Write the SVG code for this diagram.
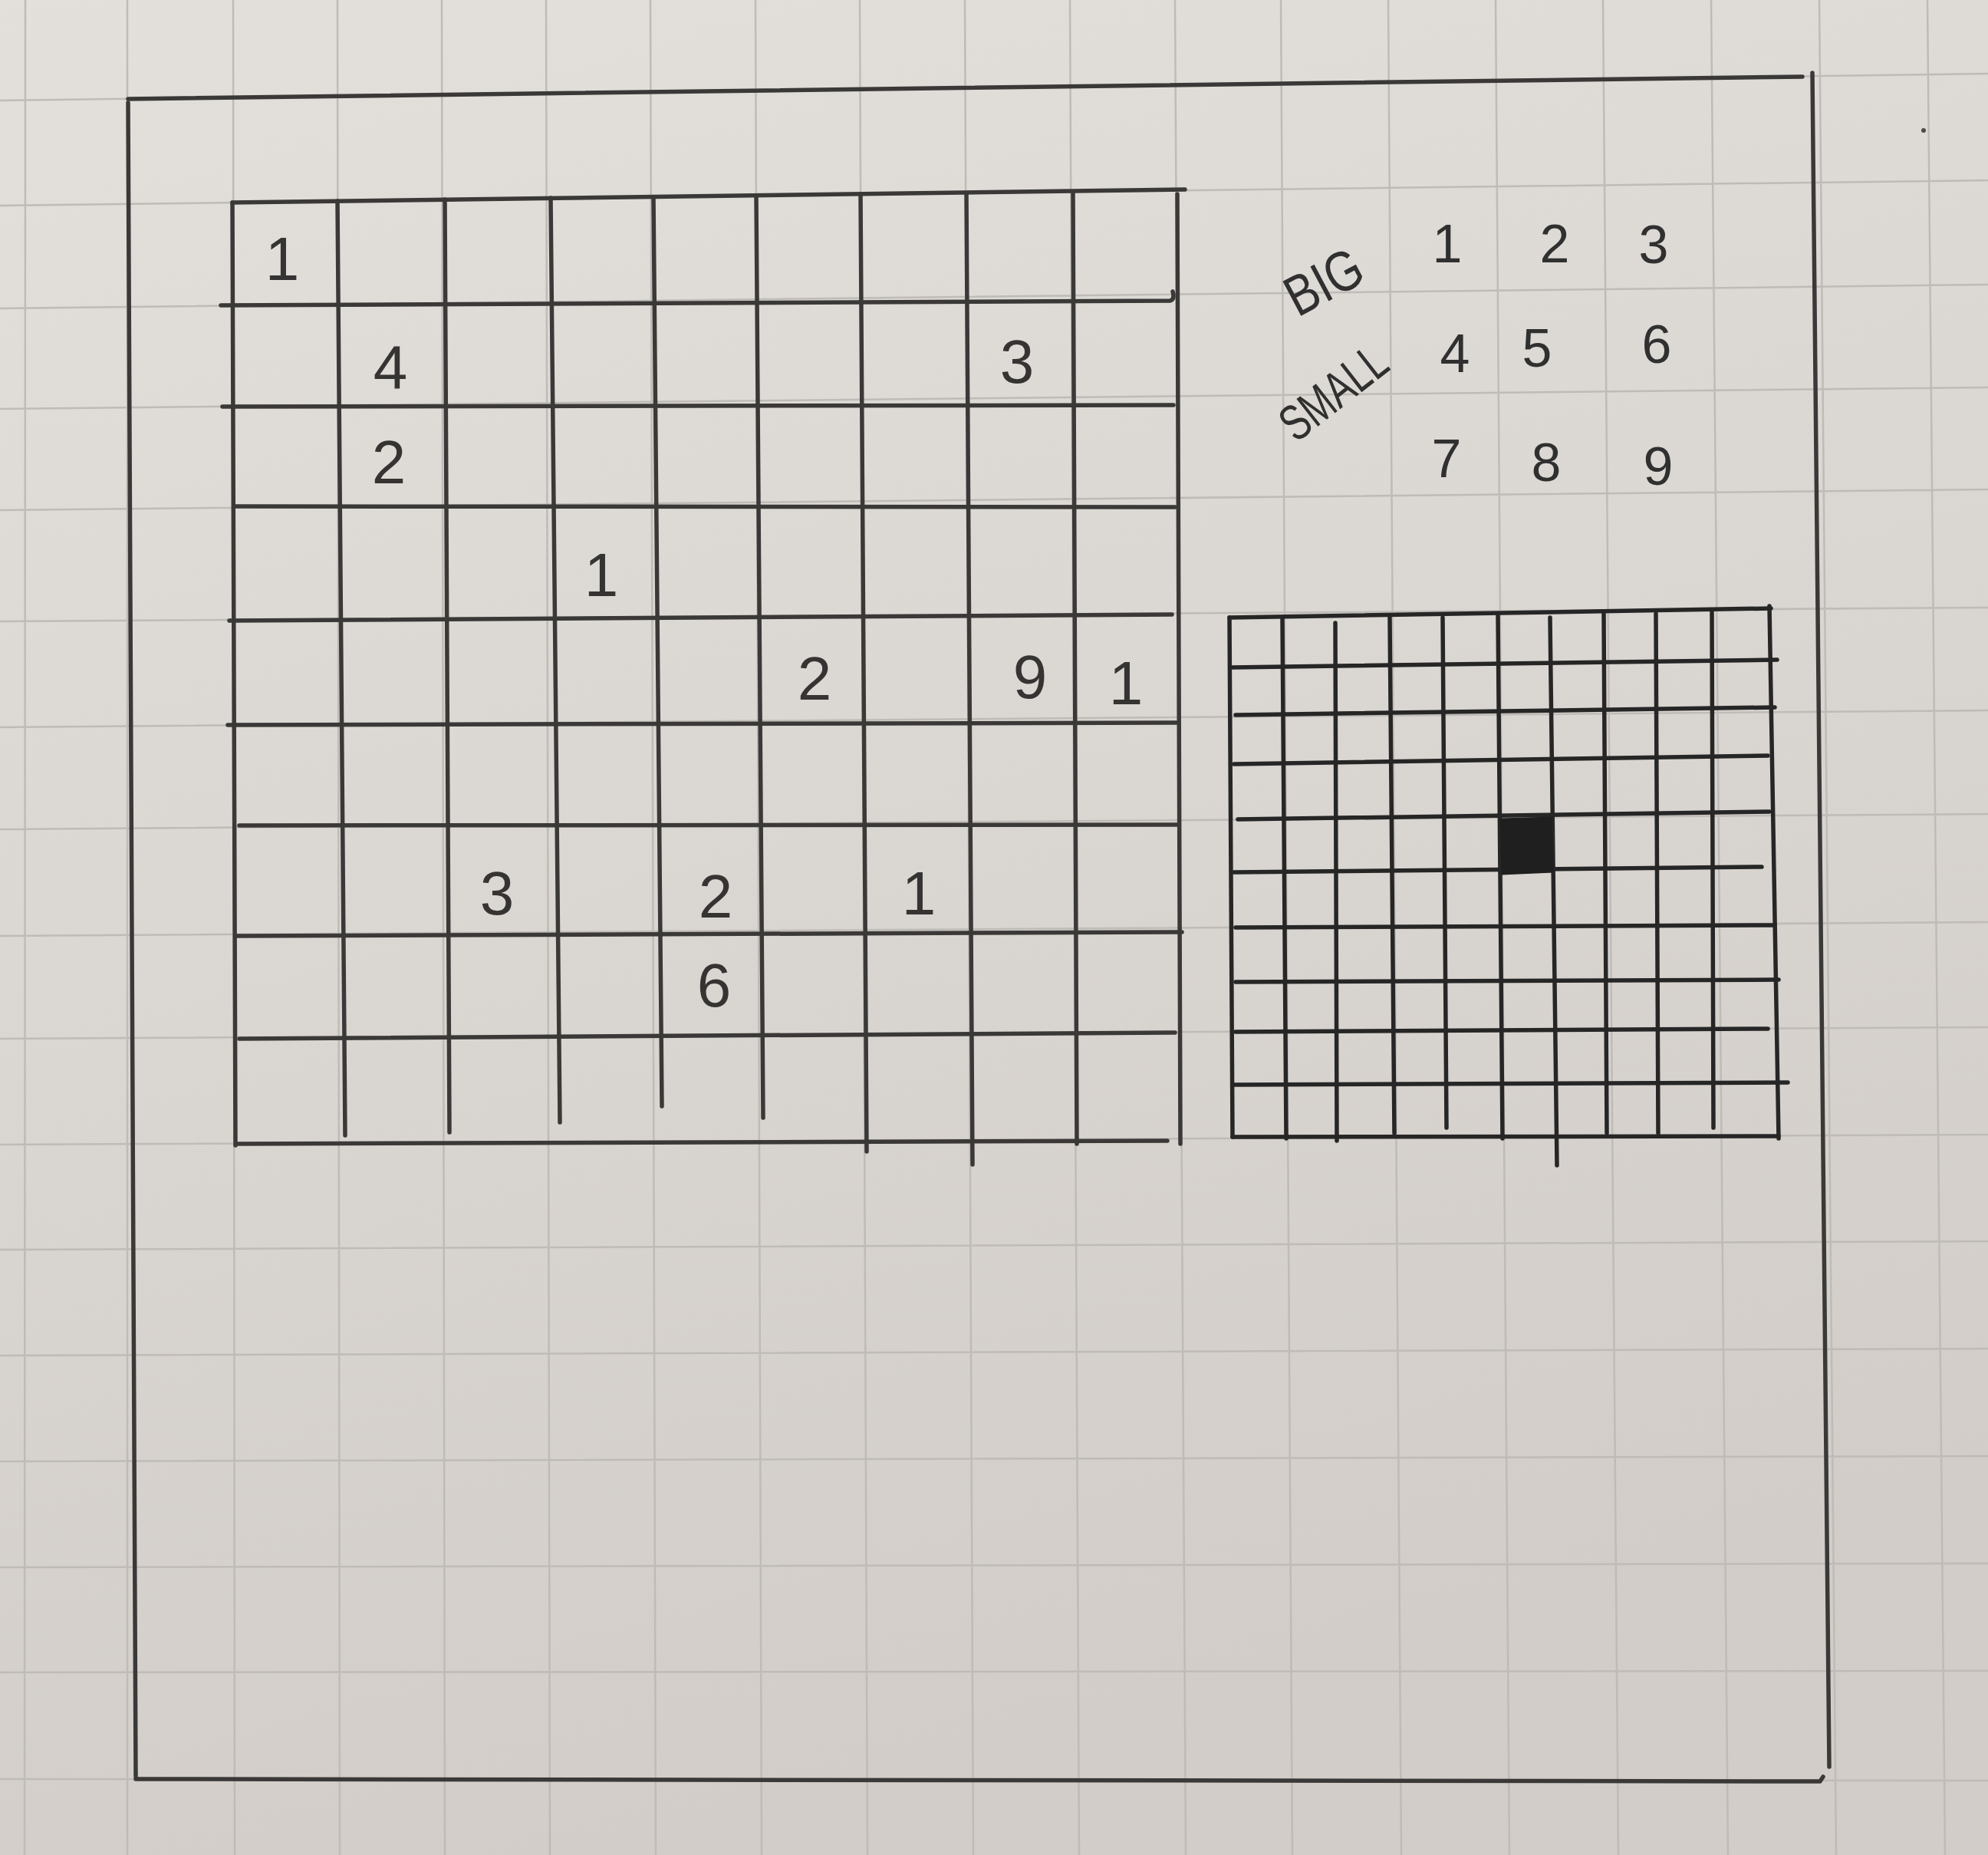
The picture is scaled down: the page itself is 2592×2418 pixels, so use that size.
<svg xmlns="http://www.w3.org/2000/svg" width="2592" height="2418" viewBox="0 0 2592 2418">
<defs>
<linearGradient id="paperGrad" x1="0" y1="0" x2="0.3" y2="1">
<stop offset="0" stop-color="#e3e0dc"/>
<stop offset="1" stop-color="#d2cdc8"/>
</linearGradient>
</defs>
<style>
.pl{stroke:#bfbbb7;stroke-width:2.5;fill:none}
.ink{stroke:#3a3938;stroke-width:5.5;fill:none;stroke-linecap:round;stroke-linejoin:round}
.ink2{stroke:#262626;stroke-width:5.5;fill:none;stroke-linecap:round;stroke-linejoin:round}
.num{font-family:"Liberation Sans",Arial,sans-serif;font-size:80px;fill:#353433;text-anchor:middle}
.leg{font-family:"Liberation Sans",Arial,sans-serif;font-size:70px;fill:#303030;text-anchor:middle}
.lab{font-family:"Liberation Sans",Arial,sans-serif;fill:#303030}
</style>

<g id="paper">
<rect x="0" y="0" width="2592" height="2418" fill="url(#paperGrad)"/>
<path class="pl" d="M33,0L32,2418 M166,0L166,2418 M304,0L306,2418 M440,0L443,2418 M576,0L580,2418 M712,0L717,2418 M848,0L855,2418 M985,0L993,2418 M1121,0L1131,2418 M1258,0L1269,2418 M1395,0L1407,2418 M1532,0L1546,2418 M1670,0L1685,2418 M1810,0L1827,2418 M1950,0L1968,2418 M2090,0L2110,2418 M2231,0L2253,2418 M2372,0L2394,2418 M2513,0L2536,2418
M0,131L2592,96 M0,268L2592,235 M0,402L2592,371 M0,533L2592,505 M0,665L2592,638 M0,810L2592,792 M0,948L2592,926 M0,1081L2592,1061 M0,1220L2592,1202 M0,1354L2592,1339 M0,1492L2592,1479 M0,1629L2592,1618 M0,1767L2592,1758 M0,1905L2592,1898 M0,2043L2592,2038 M0,2180L2592,2178 M0,2319L2592,2321"/>
<circle cx="2508" cy="170" r="3" fill="#4a4a4a"/>
</g>

<g id="outer-frame">
<path class="ink" d="M167,129 L2350,100"/>
<path class="ink" d="M167,134 L177,2316"/>
<path class="ink" d="M177,2319 L2373,2322 l4,-6"/>
<path class="ink" d="M2363,95 L2385,2303"/>
</g>

<g id="big-grid">
<path class="ink" d="M303,264 L1545,247"/>
<path class="ink" d="M288,398 L1526,392 q6,-2 3,-12"/>
<path class="ink" d="M290,530 L1530,528"/>
<path class="ink" d="M307,660 L1532,661"/>
<path class="ink" d="M299,809 L1528,801"/>
<path class="ink" d="M297,945 L1534,942"/>
<path class="ink" d="M312,1076 L1537,1075"/>
<path class="ink" d="M309,1220 L1541,1215"/>
<path class="ink" d="M312,1354 L1532,1346"/>
<path class="ink" d="M309,1491 L1522,1487"/>
<path class="ink" d="M303,264 L307,1493"/>
<path class="ink" d="M440,262 L450,1480"/>
<path class="ink" d="M580,260 L586,1476"/>
<path class="ink" d="M718,258 L730,1463"/>
<path class="ink" d="M852,257 L863,1442"/>
<path class="ink" d="M986,255 L995,1457"/>
<path class="ink" d="M1122,253 L1130,1501"/>
<path class="ink" d="M1260,252 L1268,1518"/>
<path class="ink" d="M1399,250 L1404,1491"/>
<path class="ink" d="M1535,253 L1539,1491"/>
</g>

<g id="big-grid-numbers">
<text class="num" x="368" y="365">1</text>
<text class="num" x="509" y="506">4</text>
<text class="num" x="1326" y="499">3</text>
<text class="num" x="507" y="630">2</text>
<text class="num" x="784" y="777">1</text>
<text class="num" x="1062" y="912">2</text>
<text class="num" x="1343" y="910">9</text>
<text class="num" x="1468" y="918">1</text>
<text class="num" x="648" y="1192">3</text>
<text class="num" x="933" y="1196">2</text>
<text class="num" x="1198" y="1192">1</text>
<text class="num" x="931" y="1312">6</text>
</g>

<g id="legend">
<text class="lab" x="1692" y="414" font-size="74" textLength="104" lengthAdjust="spacingAndGlyphs" transform="rotate(-28 1692 414)">BIG</text>
<text class="lab" x="1690" y="578" font-size="66" textLength="158" lengthAdjust="spacingAndGlyphs" transform="rotate(-38 1690 578)">SMALL</text>
<text class="leg" x="1887" y="342">1</text>
<text class="leg" x="2027" y="342">2</text>
<text class="leg" x="2156" y="343">3</text>
<text class="leg" x="1897" y="485">4</text>
<text class="leg" x="2004" y="478">5</text>
<text class="leg" x="2160" y="473">6</text>
<text class="leg" x="1886" y="622">7</text>
<text class="leg" x="2016" y="627">8</text>
<text class="leg" x="2162" y="632">9</text>
</g>

<g id="small-grid">
<path class="ink2" d="M1603,805 L2309,793"/>
<path class="ink2" d="M1607,870 L2317,860"/>
<path class="ink2" d="M1611,932 L2314,922"/>
<path class="ink2" d="M1609,996 L2305,985"/>
<path class="ink2" d="M1614,1068 L2307,1058"/>
<path class="ink2" d="M1609,1137 L2297,1130"/>
<path class="ink2" d="M1611,1209 L2314,1206"/>
<path class="ink2" d="M1611,1280 L2319,1277"/>
<path class="ink2" d="M1611,1345 L2305,1341"/>
<path class="ink2" d="M1609,1414 L2331,1411"/>
<path class="ink2" d="M1607,1482 L2319,1481"/>
<path class="ink2" d="M1603,805 L1607,1482"/>
<path class="ink2" d="M1672,807 L1677,1484"/>
<path class="ink2" d="M1741,812 L1743,1487"/>
<path class="ink2" d="M1812,805 L1818,1477"/>
<path class="ink2" d="M1881,805 L1886,1470"/>
<path class="ink2" d="M1953,800 L1959,1484"/>
<path class="ink2" d="M2021,805 L2030,1519"/>
<path class="ink2" d="M2091,800 L2095,1477"/>
<path class="ink2" d="M2159,800 L2162,1477"/>
<path class="ink2" d="M2232,795 L2234,1470"/>
<path class="ink2" d="M2307,790 L2319,1484"/>
<path d="M1957,1068 L2022,1066 L2024,1136 L1959,1139 Z" fill="#1f1f1f" stroke="#1f1f1f" stroke-width="3"/>
</g>
</svg>
